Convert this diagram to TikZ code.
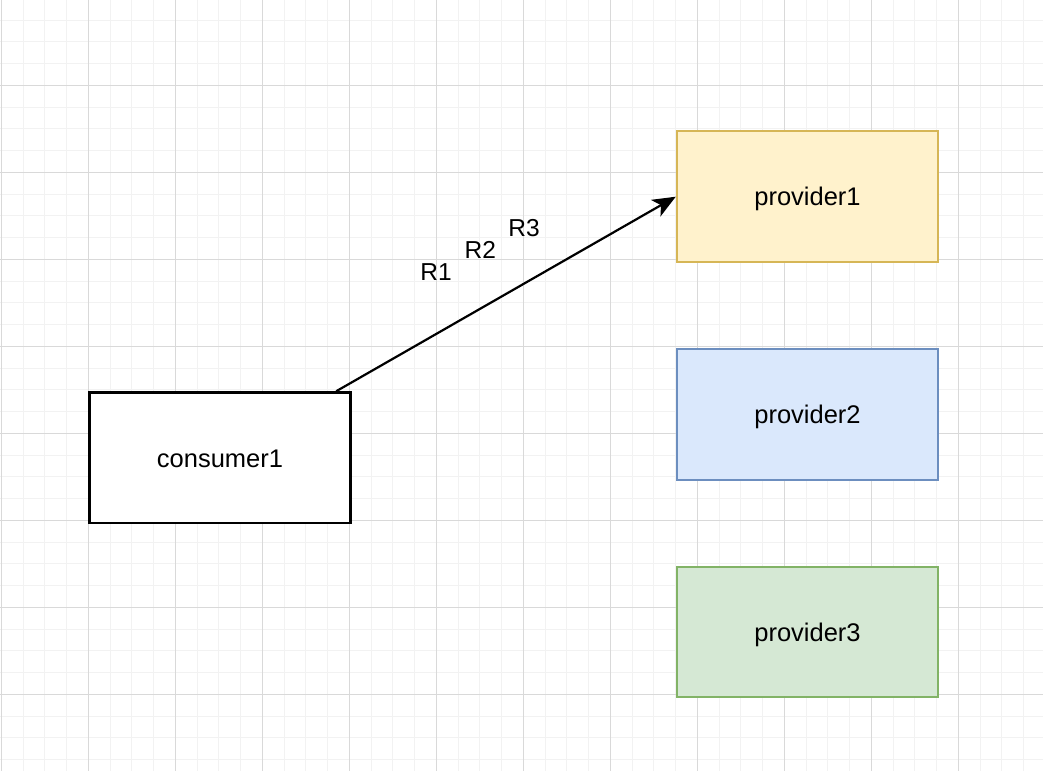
\documentclass[tikz,border=0pt]{standalone}
\usepackage{fontspec}
\setmainfont{Liberation Sans}
\usetikzlibrary{arrows.meta,calc}
\definecolor{gridminor}{HTML}{F2F2F2}
\definecolor{gridmajor}{HTML}{D9D9D9}
\definecolor{yfill}{HTML}{FFF2CC}\definecolor{ydraw}{HTML}{D6B656}
\definecolor{bfill}{HTML}{DAE8FC}\definecolor{bdraw}{HTML}{6C8EBF}
\definecolor{gfill}{HTML}{D5E8D4}\definecolor{gdraw}{HTML}{82B366}
\tikzset{
  minorline/.style={gridminor,line width=1pt},
  majorline/.style={gridmajor,line width=1pt},
  boxnode/.style={rectangle,minimum width=261.5pt,minimum height=130.5pt,inner sep=0pt,
    font=\fontsize{25.5}{30}\selectfont,text height=18.5pt,text depth=0pt},
  plainbox/.style={boxnode,draw=black,fill=white,line width=2.6pt},
  ybox/.style={boxnode,draw=ydraw,fill=yfill,line width=2pt},
  bbox/.style={boxnode,draw=bdraw,fill=bfill,line width=2pt},
  gbox/.style={boxnode,draw=gdraw,fill=gfill,line width=2pt},
  lbl/.style={font=\fontsize{24.5}{28}\selectfont,anchor=base,inner sep=0pt},
  conn/.style={line width=2.2pt,-{Stealth[length=23pt,width=19pt,inset=6pt]}}
}
\begin{document}
\begin{tikzpicture}[x=1pt,y=-1pt]
\useasboundingbox[fill=white] (0,0) rectangle (1043,771);
% grid
\foreach \i in {0,...,48} {\pgfmathsetmacro\xx{1.3+21.75*\i}\draw[minorline] (\xx,0) -- (\xx,771);}
\foreach \i in {1,...,35} {\pgfmathsetmacro\yy{-1.7+21.75*\i}\draw[minorline] (0,\yy) -- (1043,\yy);}
\foreach \i in {0,...,11} {\pgfmathsetmacro\xx{1.3+87*\i}\draw[majorline] (\xx,0) -- (\xx,771);}
\foreach \i in {1,...,8} {\pgfmathsetmacro\yy{-1.7+87*\i}\draw[majorline] (0,\yy) -- (1043,\yy);}
% boxes
\node[plainbox] (c1) at (220,457.8) {consumer1};
\node[ybox] (p1) at (807.5,196.7) {provider1};
\node[bbox] (p2) at (807.5,414.3) {provider2};
\node[gbox] (p3) at (807.5,632) {provider3};
% connector
\coordinate (s) at ($(c1.north west)!0.94!(c1.north east)$);
\draw[conn] (s) -- (p1.west);
% labels
\node[lbl] (r1) at (436,280) {R1};
\node[lbl] (r2) at (480.3,258.7) {R2};
\node[lbl] (r3) at (524,236.7) {R3};
\end{tikzpicture}
\end{document}
